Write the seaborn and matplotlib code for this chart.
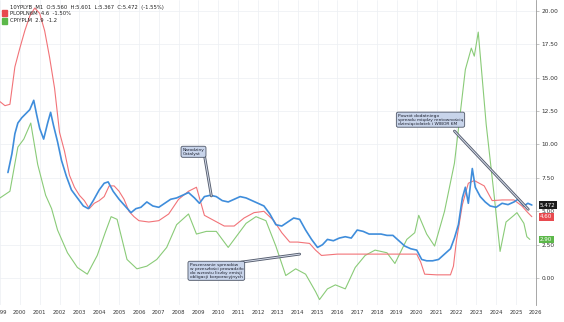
import matplotlib
matplotlib.use("Agg")
import matplotlib.pyplot as plt
import seaborn as sns
import pandas as pd

# Polish 10Y government bond yield
y10_t = [1999.40, 1999.60, 1999.75, 1999.90, 2000.10, 2000.30, 2000.50, 2000.70, 2000.85, 2001.00,
         2001.20, 2001.40, 2001.55, 2001.70, 2001.90, 2002.10, 2002.35, 2002.60, 2002.90, 2003.20,
         2003.45, 2003.70, 2004.00, 2004.25, 2004.45, 2004.70, 2005.00, 2005.30, 2005.60, 2005.85,
         2006.10, 2006.40, 2006.70, 2007.00, 2007.30, 2007.60, 2007.90, 2008.20, 2008.50, 2008.80,
         2009.05, 2009.30, 2009.60, 2009.90, 2010.20, 2010.50, 2010.80, 2011.10, 2011.40, 2011.70,
         2012.00, 2012.30, 2012.60, 2012.90, 2013.20, 2013.50, 2013.80, 2014.10, 2014.40, 2014.70,
         2015.00, 2015.25, 2015.50, 2015.80, 2016.10, 2016.40, 2016.70, 2017.00, 2017.30, 2017.60,
         2017.90, 2018.20, 2018.50, 2018.80, 2019.10, 2019.40, 2019.70, 2020.00, 2020.25, 2020.50,
         2020.80, 2021.10, 2021.40, 2021.70, 2021.90, 2022.10, 2022.30, 2022.45, 2022.60, 2022.80,
         2022.95, 2023.20, 2023.45, 2023.70, 2024.00, 2024.30, 2024.60, 2024.90, 2025.10, 2025.40,
         2025.60, 2025.80]
y10_v = [7.9, 9.3, 10.8, 11.6, 12.0, 12.3, 12.6, 13.3, 12.2, 11.2,
         10.4, 11.6, 12.4, 11.4, 10.2, 8.8, 7.6, 6.6, 6.0, 5.4,
         5.2, 5.8, 6.6, 7.1, 7.2, 6.5, 5.9, 5.4, 4.9, 5.2,
         5.3, 5.7, 5.4, 5.3, 5.6, 5.9, 6.0, 6.2, 6.4, 6.0,
         5.6, 6.1, 6.2, 6.1, 5.8, 5.7, 5.9, 6.1, 6.0, 5.8,
         5.6, 5.4, 4.8, 4.0, 3.9, 4.2, 4.5, 4.4, 3.6, 2.9,
         2.3, 2.5, 2.9, 2.8, 3.0, 3.1, 3.0, 3.6, 3.5, 3.3,
         3.3, 3.3, 3.2, 3.2, 2.8, 2.4, 2.2, 2.1, 1.4, 1.3,
         1.3, 1.4, 1.8, 2.2, 3.0, 4.0, 6.0, 6.8, 5.6, 8.2,
         6.8, 6.1, 5.7, 5.4, 5.3, 5.6, 5.5, 5.7, 5.9, 5.4,
         5.6, 5.47]

# WIBOR 6M
wibor_t = [1999.00, 1999.25, 1999.50, 1999.75, 2000.00, 2000.25, 2000.50, 2000.75, 2001.00, 2001.25,
           2001.50, 2001.75, 2002.00, 2002.25, 2002.50, 2002.75, 2003.00, 2003.25, 2003.50, 2003.75,
           2004.00, 2004.25, 2004.50, 2004.75, 2005.00, 2005.25, 2005.50, 2005.75, 2006.00, 2006.50,
           2007.00, 2007.50, 2008.00, 2008.50, 2008.90, 2009.30, 2009.80, 2010.30, 2010.80, 2011.30,
           2011.80, 2012.30, 2012.80, 2013.20, 2013.60, 2014.00, 2014.60, 2014.90, 2015.20, 2016.00,
           2017.00, 2018.00, 2019.00, 2020.00, 2020.20, 2020.40, 2021.00, 2021.70, 2021.85, 2022.00,
           2022.30, 2022.60, 2022.90, 2023.40, 2023.80, 2024.30, 2024.90, 2025.30, 2025.60, 2025.80]
wibor_v = [13.2, 12.9, 13.0, 15.8, 17.2, 18.5, 19.6, 20.2, 19.8, 18.5,
           16.5, 14.2, 10.9, 9.5, 7.7, 6.8, 6.2, 5.8, 5.2, 5.6,
           5.8, 6.1, 6.9, 6.9, 6.5, 5.9, 5.0, 4.6, 4.3, 4.2,
           4.3, 4.8, 5.9, 6.5, 6.8, 4.7, 4.3, 3.9, 3.9, 4.5,
           4.9, 5.0, 4.3, 3.4, 2.7, 2.7, 2.6, 2.1, 1.7, 1.8,
           1.8, 1.8, 1.8, 1.8, 1.2, 0.3, 0.25, 0.25, 0.9, 2.8,
           5.5, 7.1, 7.3, 6.9, 5.8, 5.85, 5.85, 5.4, 4.9, 4.6]

# CPI y/y
cpi_t = [1999.00, 1999.50, 1999.90, 2000.20, 2000.55, 2000.90, 2001.30, 2001.60, 2001.90, 2002.40,
         2002.90, 2003.40, 2003.90, 2004.30, 2004.60, 2004.90, 2005.40, 2005.90, 2006.40, 2006.90,
         2007.40, 2007.90, 2008.50, 2008.90, 2009.40, 2009.90, 2010.50, 2010.90, 2011.40, 2011.90,
         2012.40, 2012.90, 2013.40, 2013.90, 2014.40, 2014.90, 2015.10, 2015.50, 2015.90, 2016.40,
         2016.90, 2017.40, 2017.90, 2018.50, 2018.90, 2019.50, 2019.90, 2020.10, 2020.50, 2020.90,
         2021.40, 2021.90, 2022.45, 2022.75, 2022.90, 2023.10, 2023.50, 2023.90, 2024.20, 2024.50,
         2024.90, 2025.05, 2025.40, 2025.55, 2025.70]
cpi_v = [6.0, 6.5, 9.8, 10.4, 11.6, 8.5, 6.2, 5.2, 3.6, 1.9,
         0.8, 0.3, 1.7, 3.4, 4.6, 4.4, 1.4, 0.7, 0.9, 1.4,
         2.3, 4.0, 4.8, 3.3, 3.5, 3.5, 2.3, 3.1, 4.1, 4.6,
         4.3, 2.4, 0.2, 0.7, 0.3, -1.0, -1.6, -0.8, -0.5, -0.8,
         0.8, 1.7, 2.1, 1.9, 1.1, 2.9, 3.4, 4.7, 3.3, 2.4,
         5.0, 8.6, 15.6, 17.2, 16.6, 18.4, 11.5, 6.2, 2.0, 4.2,
         4.7, 4.9, 4.1, 3.1, 2.9]

years = list(range(1999, 2027))
year_labels = [str(y) for y in years]
yticks = [0.0, 2.5, 5.0, 7.5, 10.0, 12.5, 15.0, 17.5, 20.0]

header = "10YPLYB  M1  O:5.560  H:5.601  L:5.367  C:5.472  (-1.55%)"
legend_red = "PLOPLN6M  4.6  -1.50%"
legend_green = "CPIYPLM  2.9  -1.2"

notes = [
    ("Narodziny\nCatalyst", (2008.2, 9.75), (2009.3, 9.2), (2009.65, 6.15)),
    ("Poszerzanie spreadów\nw przeszłości prowadziło\ndo wzrostu liczby emisji\nobligacji korporacyjnych",
     (2008.55, 1.15), (2011.15, 1.2), (2014.1, 1.8)),
    ("Powrót dodatniego\nspreadu między rentownością\ndziesięciolatek i WIBOR 6M",
     (2019.05, 12.3), (2021.9, 11.0), (2025.62, 5.15)),
]

BLUE = "#3f8ddb"
RED = "#f27378"
GREEN = "#8acb78"

sns.set_style("white")
plt.rcParams["font.family"] = ["DejaVu Sans"]

fig = plt.figure(figsize=(5.64, 3.22), dpi=100)
ax = fig.add_axes([0.0, 0.053, 0.950, 0.947])

df10 = pd.DataFrame({"t": y10_t, "v": y10_v})
dfw = pd.DataFrame({"t": wibor_t, "v": wibor_v})
dfc = pd.DataFrame({"t": cpi_t, "v": cpi_v})

sns.lineplot(data=dfc, x="t", y="v", ax=ax, color=GREEN, lw=0.8)
sns.lineplot(data=dfw, x="t", y="v", ax=ax, color=RED, lw=0.8)
sns.lineplot(data=df10, x="t", y="v", ax=ax, color=BLUE, lw=1.2)

ax.set_xlim(1999.0, 2026.0)
ax.set_ylim(-2.0, 20.8)
ax.set_xlabel("")
ax.set_ylabel("")

ax.set_xticks(years)
ax.set_xticklabels(year_labels, fontsize=3.8, color="#333333")
ax.yaxis.tick_right()
ax.set_yticks(yticks)
ax.set_yticklabels([f"{v:.2f}" for v in yticks], fontsize=4.2, color="#333333")
ax.tick_params(axis="both", length=2, width=0.4, color="#999999", pad=2)
ax.grid(True, color="#eceff3", lw=0.5)
for side in ["top", "left", "bottom"]:
    ax.spines[side].set_visible(False)
ax.spines["right"].set_color("#999999")
ax.spines["right"].set_linewidth(0.6)

# header and legend
fig.text(0.018, 0.985, header, fontsize=3.8, va="top", ha="left", color="#222222")
for i, (txt, col) in enumerate([(legend_red, "#e84a4f"), (legend_green, "#5cb84a")]):
    yy = 0.962 - i * 0.024
    fig.patches.append(plt.Rectangle((0.004, yy - 0.011), 0.009, 0.017, transform=fig.transFigure,
                                     color=col, figure=fig))
    fig.text(0.018, yy - 0.003, txt, fontsize=3.8, va="center", ha="left", color="#222222")

# last-value tags on the price scale
for val, fc, tc, lbl in [(wibor_v[-1], "#e84a4f", "white", "4.60"),
                         (cpi_v[-1], "#5cb84a", "white", "2.90"),
                         (y10_v[-1], "#1c1c1c", "white", "5.472")]:
    ax.annotate(lbl, xy=(1.0, val), xycoords=("axes fraction", "data"), xytext=(3, 0),
                textcoords="offset points", fontsize=4.0, color=tc, va="center", ha="left",
                bbox=dict(boxstyle="square,pad=0.25", fc=fc, ec="none"), annotation_clip=False)

# callouts
for text, pos, start, end in notes:
    ax.plot([start[0], end[0]], [start[1], end[1]], color="#555d6e", lw=2.0, solid_capstyle="round",
            zorder=5)
    ax.plot([start[0], end[0]], [start[1], end[1]], color="#d6dcea", lw=0.7, zorder=6)
    ax.text(pos[0], pos[1], text, fontsize=3.15, va="top", ha="left", color="#1e2230", zorder=7,
            linespacing=1.0,
            bbox=dict(boxstyle="round,pad=0.35,rounding_size=0.4", fc="#c8d4ea", ec="#4d5566", lw=0.6))

fig.savefig("out.png", dpi=100)
